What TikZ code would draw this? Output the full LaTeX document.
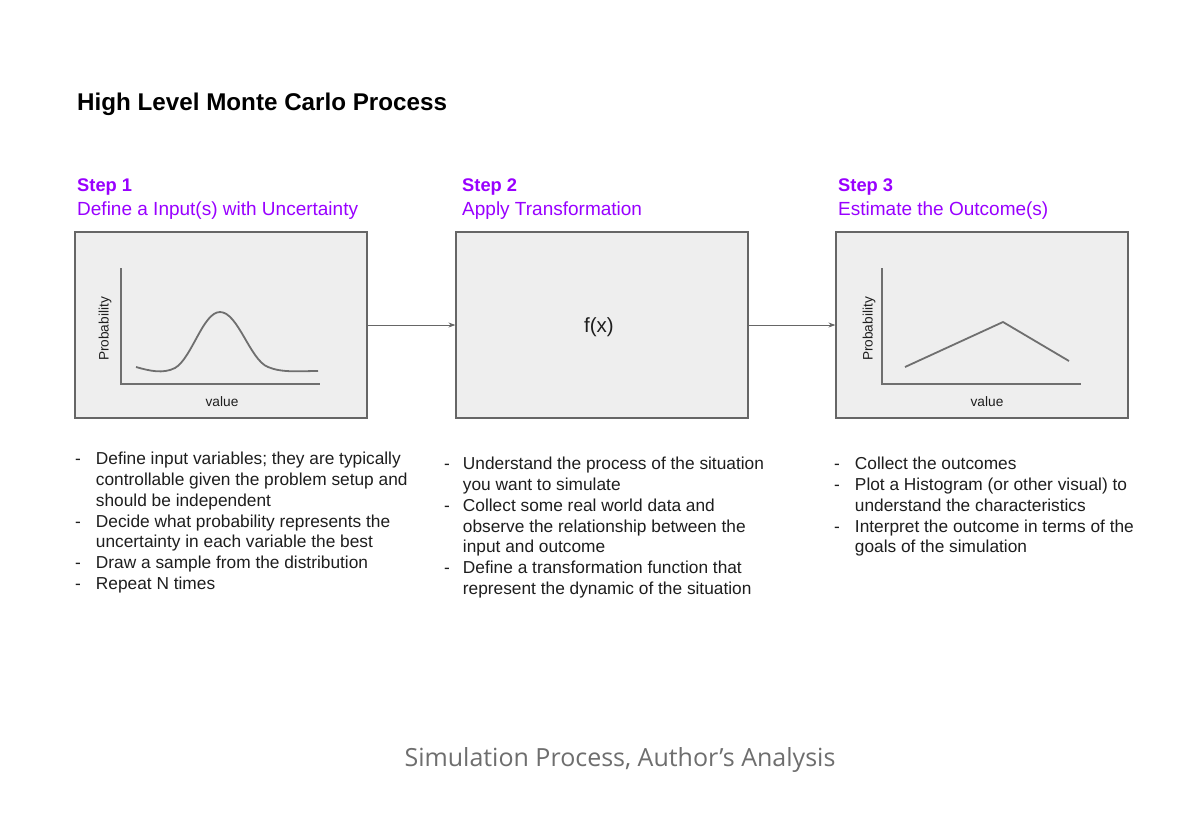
\documentclass[tikz,border=0pt]{standalone}
\usepackage{fontspec}
\setmainfont{Liberation Sans}
\newfontfamily\capfont{Open Sans}
\usetikzlibrary{arrows.meta}
\definecolor{stepc}{HTML}{9900FF}
\definecolor{boxfill}{HTML}{EEEEEE}
\definecolor{boxline}{HTML}{666666}
\definecolor{axisc}{HTML}{6F6F6F}
\definecolor{txt}{HTML}{1E1E1E}
\definecolor{capc}{HTML}{6E6E6E}
\tikzset{
  panel/.style={draw=boxline, line width=1.2pt, fill=boxfill, minimum width=292pt, minimum height=186pt, inner sep=0pt},
  flow/.style={draw=boxline, line width=0.9pt, -{Stealth[length=7pt,width=5pt]}},
  axisline/.style={draw=axisc, line width=1.4pt},
  curveline/.style={draw=axisc, line width=1.8pt, line join=round},
  steptitle/.style={anchor=base west, inner sep=0pt, text=stepc, font=\fontsize{18.3}{20}\selectfont\bfseries},
  stepsub/.style={anchor=base west, inner sep=0pt, text=stepc, font=\fontsize{19}{21}\selectfont},
  axislab/.style={inner sep=0pt, text=txt, font=\fontsize{13.7}{15}\selectfont},
  bullist/.style={anchor=north west, inner sep=0pt, text=txt, font=\fontsize{17.3}{20.8}\selectfont},
}
\begin{document}
\begin{tikzpicture}[x=1pt,y=-1pt]
\useasboundingbox (0,0) rectangle (1200,812);
\fill[white] (0,0) rectangle (1200,812);

\node[anchor=base west, inner sep=0pt, font=\fontsize{24.2}{27}\selectfont\bfseries] (title) at (77,110) {High Level Monte Carlo Process};

% step headers
\node[steptitle] (s1) at (77,191) {Step 1};
\node[stepsub] (d1) at (77,215) {Define a Input(s) with Uncertainty};
\node[steptitle] (s2) at (462,191) {Step 2};
\node[stepsub] (d2) at (462,215) {Apply Transformation};
\node[steptitle] (s3) at (838,191) {Step 3};
\node[stepsub] (d3) at (838,215) {Estimate the Outcome(s)};

% panels
\node[panel] (p1) at (221,325) {};
\node[panel] (p2) at (602,325) {};
\node[panel] (p3) at (982,325) {};
\node[inner sep=0pt, text=txt, font=\fontsize{20.5}{22}\selectfont] (fx) at (599,327) {f(x)};

\draw[flow] (p1.east) -- (p2.west);
\draw[flow] (p2.east) -- (p3.west);

% chart 1
\coordinate (o1) at (121,384);
\coordinate (y1) at (121,268);
\coordinate (x1) at (320,384);
\draw[axisline] (y1) -- (o1) -- (x1);
\node[axislab, rotate=90] (pl1) at (105,329) {Probability};
\node[axislab] (vl1) at (222,402) {value};
\draw[curveline] (136,367) .. controls (150,371) and (163,374) .. (175,368)
  .. controls (192,358) and (203,312) .. (220,312)
  .. controls (238,312) and (250,360) .. (268,367)
  .. controls (282,373) and (300,371) .. (318,371);

% chart 3
\coordinate (o3) at (882,384);
\coordinate (y3) at (882,268);
\coordinate (x3) at (1081,384);
\draw[axisline] (y3) -- (o3) -- (x3);
\node[axislab, rotate=90] (pl3) at (869,329) {Probability};
\node[axislab] (vl3) at (987,402) {value};
\draw[curveline] (905,367) -- (1003,322) -- (1069,361);

% bullet lists
\node[bullist] (b1) at (75,450) {%
\begin{tabular}{@{}l@{\hspace{15pt}}l@{}}
- & Define input variables; they are typically\\
 & controllable given the problem setup and\\
 & should be independent\\
- & Decide what probability represents the\\
 & uncertainty in each variable the best\\
- & Draw a sample from the distribution\\
- & Repeat N times
\end{tabular}};

\node[bullist] (b2) at (444,455) {%
\begin{tabular}{@{}l@{\hspace{13pt}}l@{}}
- & Understand the process of the situation\\
 & you want to simulate\\
- & Collect some real world data and\\
 & observe the relationship between the\\
 & input and outcome\\
- & Define a transformation function that\\
 & represent the dynamic of the situation
\end{tabular}};

\node[bullist] (b3) at (834,455) {%
\begin{tabular}{@{}l@{\hspace{15pt}}l@{}}
- & Collect the outcomes\\
- & Plot a Histogram (or other visual) to\\
 & understand the characteristics\\
- & Interpret the outcome in terms of the\\
 & goals of the simulation
\end{tabular}};

% caption
\node[inner sep=0pt, text=capc, font=\capfont\fontsize{25}{28}\selectfont] (cap) at (620,760) {Simulation Process, Author’s Analysis};
\end{tikzpicture}
\end{document}
